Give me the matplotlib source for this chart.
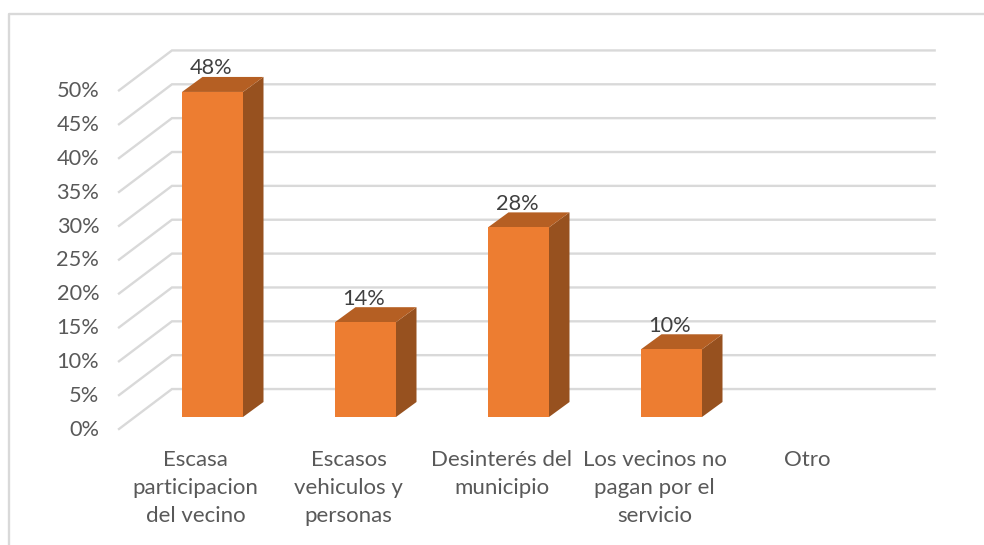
import matplotlib
matplotlib.use('Agg')
import matplotlib.pyplot as plt
from matplotlib.patches import Polygon, Rectangle

plt.rcParams['font.family'] = ['Lato', 'DejaVu Sans']

# Datos.
categorias = ['Escasa\nparticipacion\ndel vecino', 'Escasos\nvehiculos y\npersonas',
              'Desinterés del\nmunicipio', 'Los vecinos no\npagan por el\nservicio', 'Otro']
valores = [48, 14, 28, 10, 0]
ticks = [0, 5, 10, 15, 20, 25, 30, 35, 40, 45, 50]

# Escala: una categoria = 153 px, 1% = 6.772 px.
W, H = 984, 545
px_cat = 153.0
px_pct = 6.772
x0_px = 212.5
y0_px = 417.0

fig = plt.figure(figsize=(W / 100, H / 100), dpi=100, facecolor='white')
ax = fig.add_axes([0, 0, 1, 1])
ax.set_xlim(-x0_px / px_cat, (W - x0_px) / px_cat)
ax.set_ylim((y0_px - H) / px_pct, y0_px / px_pct)
ax.axis('off')

gris = '#d9d9d9'
lw_grid = 1.7

# Profundidad 3D.
ancho = 61 / px_cat
dx = 20.5 / px_cat
dy = 15 / px_pct

# Paredes: rejilla del fondo y diagonales.
x_frente = -0.611
x_fondo = -0.265
x_fin = 4.72
y_frente = -1.77
y_fondo = 4.13
for t in ticks:
    ax.plot([x_frente, x_fondo, x_fin], [t + y_frente, t + y_fondo, t + y_fondo],
            color=gris, lw=lw_grid, solid_joinstyle='miter', zorder=1)
    ax.text(-0.74, t + y_frente - 0.1, f'{t}%', ha='right', va='center',
            fontsize=15.7, color='#595959')

# Barras.
for i, v in enumerate(valores):
    if v == 0:
        continue
    izq = i - ancho / 2
    der = i + ancho / 2
    ax.add_patch(Polygon([(der, 0), (der + dx, dy), (der + dx, v + dy), (der, v)],
                         facecolor='#97511f', edgecolor='none', zorder=2))
    ax.add_patch(Polygon([(izq, v), (izq + dx, v + dy), (der + dx, v + dy), (der, v)],
                         facecolor='#b55f23', edgecolor='none', zorder=2))
    ax.add_patch(Rectangle((izq, 0), ancho, v, facecolor='#ed7d31', edgecolor='none', zorder=3))
    ax.text(i - 0.01, v + dy + 1.25, f'{v}%', ha='center', va='center',
            fontsize=15.7, color='#404040', zorder=4)

# Etiquetas de categoria.
for i, c in enumerate(categorias):
    ax.text(i - 0.11, -4.9, c, ha='center', va='top', fontsize=16,
            color='#595959', linespacing=1.5)

# Borde del grafico.
ax.plot([-(x0_px - 9) / px_cat, -(x0_px - 9) / px_cat, (W - x0_px) / px_cat],
        [(y0_px - H) / px_pct, (y0_px - 14) / px_pct, (y0_px - 14) / px_pct],
        color=gris, lw=1.7, zorder=1)

fig.savefig('out.png', dpi=100, facecolor='white')
